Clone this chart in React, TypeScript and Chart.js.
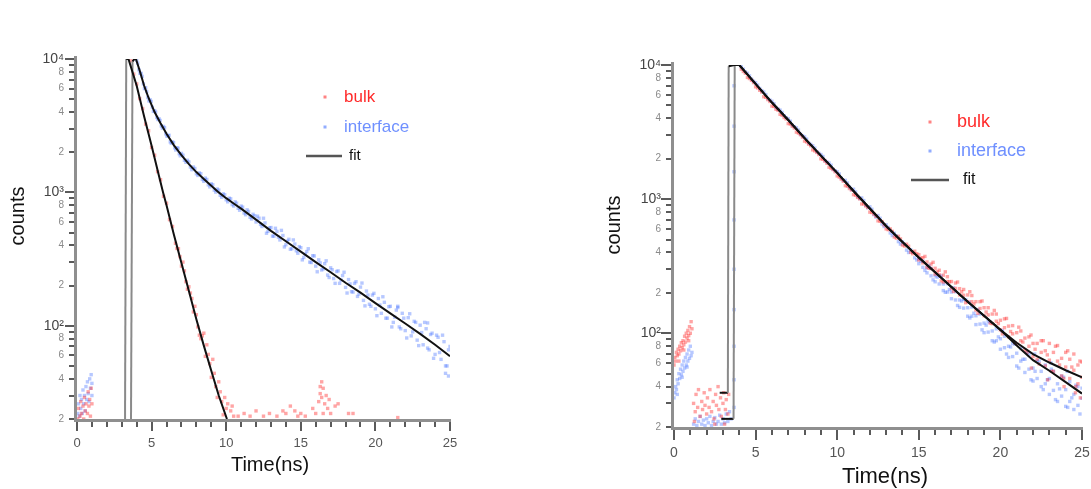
import { useEffect, useRef } from "react";
import { Chart, registerables } from "chart.js";

Chart.register(...registerables);

type Pt = [number, number];

// Axis ticks shared by both panels
const TIME_TICKS = [0, 1, 2, 3, 4, 5, 6, 7, 8, 9, 10, 11, 12, 13, 14, 15, 16, 17, 18, 19, 20, 21, 22, 23, 24, 25];
const COUNT_TICKS = [
  20, 30, 40, 50, 60, 70, 80, 90, 100, 200, 300, 400, 500, 600, 700, 800, 900,
  1000, 2000, 3000, 4000, 5000, 6000, 7000, 8000, 9000, 10000,
];
const DECADE_LABELS: Record<number, string> = { 100: "10\u00B2", 1000: "10\u00B3", 10000: "10\u2074" };
const SERIES_NAMES = ["bulk", "interface", "fit"];
const X_TITLE = "Time(ns)";
const Y_TITLE = "counts";

// ---------- left panel ----------
const bulkLeft: Pt[] = [
  [0.05, 20], [0.1, 24], [0.2, 21], [0.25, 27], [0.3, 22], [0.4, 25], [0.45, 20], [0.5, 29], [0.55, 23],
  [0.6, 26], [0.7, 22], [0.75, 32], [0.8, 25], [0.85, 28], [0.9, 21], [0.95, 34], [1.0, 26],
  [3.6, 9700], [3.8, 7700], [4.0, 6500], [4.2, 5050], [4.4, 4250], [4.6, 3250], [4.8, 2900], [5.0, 2170],
  [5.2, 1900], [5.4, 1430], [5.6, 1245], [5.8, 935], [6.0, 830], [6.2, 625], [6.4, 555], [6.6, 415],
  [6.7, 380], [6.8, 378], [6.9, 330], [7.0, 280], [7.1, 300], [7.2, 258], [7.3, 214], [7.4, 188], [7.5, 196],
  [7.6, 176], [7.7, 160], [7.8, 127], [7.9, 140], [8.0, 121], [8.1, 98], [8.2, 85], [8.3, 80], [8.4, 84],
  [8.5, 88], [8.6, 59], [8.7, 72], [8.8, 61], [8.9, 52], [9.0, 41], [9.1, 56], [9.2, 44], [9.3, 35], [9.4, 29],
  [9.5, 38], [9.6, 32], [9.7, 27], [9.8, 21.5], [9.9, 29], [10.0, 24], [10.1, 26], [10.3, 23], [10.4, 25],
  [10.5, 21], [10.8, 21], [11.2, 22], [11.6, 21], [12.0, 23], [12.5, 21], [12.9, 22], [13.4, 21], [13.8, 23],
  [14.0, 22], [14.3, 25], [14.6, 23], [14.8, 21], [15.0, 22], [15.3, 21], [15.8, 24], [16.0, 22],
  [16.2, 27], [16.3, 31], [16.3, 35], [16.4, 29], [16.4, 38], [16.5, 34], [16.5, 22], [16.6, 26],
  [16.7, 30], [16.8, 24], [16.9, 28], [17.0, 22], [17.3, 25], [17.5, 26], [18.2, 22], [18.5, 22], [21.5, 20.5],
];

const interfaceLeft: Pt[] = [
  [0.05, 22], [0.1, 26], [0.15, 21], [0.2, 30], [0.25, 24], [0.3, 28], [0.35, 22], [0.4, 33], [0.45, 26],
  [0.5, 30], [0.55, 23], [0.6, 35], [0.65, 28], [0.7, 38], [0.75, 31], [0.8, 27], [0.85, 40], [0.9, 34],
  [0.95, 43], [1.0, 30], [1.0, 37],
  [4.0, 9800], [4.15, 8300], [4.3, 7800], [4.45, 6500], [4.6, 6100], [4.75, 5150], [4.9, 4950], [5.05, 4350],
  [5.2, 4100], [5.35, 3650], [5.5, 3560], [5.65, 3150], [5.8, 3120], [5.95, 2750], [6.1, 2660], [6.25, 2390],
  [6.4, 2390], [6.55, 2160], [6.7, 2160], [6.85, 1950], [7.0, 1960], [7.2, 1740], [7.4, 1740], [7.6, 1550],
  [7.8, 1550], [8.0, 1380], [8.2, 1400], [8.4, 1250], [8.6, 1280], [8.8, 1140], [9.0, 1160], [9.2, 1040],
  [9.4, 1060], [9.6, 950], [9.8, 975], [10.0, 880], [10.2, 905], [10.4, 810], [10.6, 850], [10.8, 760],
  [11.0, 790], [11.2, 700], [11.4, 740], [11.6, 650], [11.8, 685], [12.0, 600], [12.2, 640], [12.4, 555],
  [12.6, 590], [12.8, 510], [13.0, 545], [13.2, 470], [13.4, 510], [13.6, 440], [13.8, 475], [14.0, 405],
  [14.2, 445], [14.4, 378], [14.6, 410], [14.8, 350], [15.0, 385], [15.2, 325], [15.4, 360], [15.6, 300],
  [15.8, 335], [16.0, 280], [16.2, 312], [16.4, 262], [16.6, 292], [16.8, 240], [17.0, 272], [17.2, 226],
  [17.4, 255], [17.6, 208], [17.8, 238], [18.0, 194], [18.2, 222], [18.4, 180], [18.6, 208], [18.8, 166],
  [19.0, 195], [19.2, 155], [19.4, 182], [19.6, 145], [19.8, 170], [20.0, 134], [20.2, 160], [20.4, 124],
  [20.6, 150], [20.8, 114], [21.0, 140], [21.2, 106], [21.4, 131], [21.5, 140], [21.6, 98], [21.8, 124],
  [22.0, 92], [22.2, 115], [22.4, 84], [22.6, 108], [22.8, 78], [23.0, 101], [23.2, 72], [23.4, 95],
  [23.5, 105], [23.6, 66], [23.8, 88], [24.0, 61], [24.2, 82], [24.4, 56], [24.6, 76], [24.7, 44],
  [24.8, 50], [24.9, 42], [25.0, 70],
];

// interleaved interface channels between the ones above
const interfaceLeftMid: Pt[] = [
  [4.07, 9300], [4.22, 7800], [4.37, 7400], [4.52, 6000], [4.67, 5700], [4.82, 4850], [4.97, 4800],
  [5.12, 4050], [5.27, 4000], [5.42, 3520], [5.57, 3460], [5.72, 3030], [5.87, 3050], [6.02, 2640],
  [6.17, 2680], [6.32, 2330], [6.47, 2360], [6.62, 2080], [6.77, 2140], [6.92, 1880], [7.1, 1900],
  [7.3, 1680], [7.5, 1690], [7.7, 1480], [7.9, 1510], [8.1, 1340], [8.3, 1380], [8.5, 1210], [8.7, 1250],
  [8.9, 1100], [9.1, 1140], [9.3, 1005], [9.5, 1040], [9.7, 920], [9.9, 960], [10.1, 850], [10.3, 895],
  [10.5, 790], [10.7, 830], [10.9, 735], [11.1, 775], [11.3, 680], [11.5, 720], [11.7, 632], [11.9, 668],
  [12.1, 663], [12.3, 575], [12.5, 640], [12.7, 494], [12.9, 542], [13.1, 470], [13.3, 538], [13.5, 462],
  [13.7, 519], [13.9, 390], [14.1, 431], [14.3, 375], [14.5, 440], [14.7, 365], [14.9, 392], [15.1, 312],
  [15.3, 344], [15.5, 378], [15.7, 298], [15.9, 334], [16.1, 254], [16.3, 296], [16.5, 267], [16.7, 307],
  [16.9, 230], [17.1, 263], [17.3, 208], [17.5, 258], [17.7, 220], [17.9, 252], [18.1, 176], [18.3, 206],
  [18.5, 179], [18.7, 214], [18.9, 173], [19.1, 209], [19.3, 141], [19.5, 170], [19.7, 140], [19.9, 175],
  [20.1, 119], [20.3, 143], [20.5, 165], [20.7, 114], [20.9, 139], [21.1, 98], [21.3, 116], [21.5, 137],
  [21.7, 95], [21.9, 114], [22.1, 81], [22.3, 123], [22.5, 90], [22.7, 106], [22.9, 71], [23.1, 89],
  [23.3, 106], [23.5, 68], [23.7, 86], [23.9, 57], [24.1, 85], [24.3, 63], [24.5, 85], [24.7, 50], [24.9, 66],
];

const bulkFitLeft: Pt[] = [
  [3.22, 20], [3.3, 10000], [3.45, 10000], [4.0, 6300], [4.5, 3700], [5.0, 2240], [5.5, 1320], [5.77, 1000],
  [6.0, 800], [6.5, 480], [7.0, 295], [7.5, 182], [8.0, 112], [8.5, 71], [9.0, 46], [9.5, 30], [10.05, 20],
];

const interfaceFitLeft: Pt[] = [
  [3.62, 20], [3.72, 9600], [3.85, 10000], [3.95, 10000], [4.2, 8200], [4.5, 6300], [4.8, 5100], [5.2, 4000],
  [5.6, 3300], [6.0, 2750], [6.5, 2250], [7.0, 1900], [7.5, 1630], [8.0, 1420], [8.5, 1260], [9.0, 1120],
  [9.5, 1000], [10.0, 905], [10.5, 825], [11.0, 755], [12.0, 625], [13.0, 515], [14.0, 430], [15.0, 360],
  [16.0, 300], [17.0, 252], [18.0, 210], [19.0, 177], [20.0, 148], [21.0, 124], [22.0, 104], [23.0, 87],
  [24.0, 72], [25.0, 59],
];

// ---------- right panel ----------
const bulkRight: Pt[] = [
  [0.0, 58], [0.05, 66], [0.1, 62], [0.15, 72], [0.2, 68], [0.25, 76], [0.3, 70], [0.3, 62], [0.35, 80],
  [0.4, 74], [0.45, 85], [0.5, 78], [0.55, 88], [0.6, 82], [0.6, 75], [0.65, 95], [0.7, 86], [0.75, 100],
  [0.8, 92], [0.85, 105], [0.9, 96], [0.9, 88], [0.95, 112], [1.0, 100], [1.05, 122], [1.1, 108],
  [1.2, 30], [1.25, 22], [1.3, 26], [1.35, 35], [1.45, 28], [1.5, 38], [1.6, 24], [1.7, 31], [1.75, 27],
  [1.85, 36], [1.9, 29], [2.0, 25], [2.05, 33], [2.15, 28], [2.2, 38], [2.3, 26], [2.4, 31], [2.45, 23],
  [2.5, 21], [2.55, 35], [2.6, 29], [2.7, 40], [2.75, 27], [2.85, 33], [2.9, 24], [3.0, 30], [3.05, 36],
  [3.1, 21], [3.15, 27], [3.2, 32], [3.3, 25], [3.35, 35],
  [4.25, 8950], [4.5, 8080], [4.75, 7690], [5.0, 6880], [5.25, 6480], [5.5, 5800], [5.75, 5520], [6.0, 4940],
  [6.25, 4680], [6.5, 4290], [6.75, 4060], [7.0, 3660], [7.25, 3490], [7.5, 3160], [7.75, 3020], [8.0, 2710],
  [8.25, 2570], [8.5, 2330], [8.75, 2230], [9.0, 2000], [9.25, 1920], [9.5, 1730], [9.75, 1660], [10.0, 1490],
  [10.25, 1410], [10.5, 1260], [10.75, 1200], [11.0, 1080], [11.25, 1030], [11.5, 920], [11.75, 890],
  [12.0, 800], [12.25, 774], [12.5, 689], [12.75, 680], [13.0, 600], [13.25, 600], [13.5, 522], [13.75, 528],
  [14.0, 455], [14.25, 461], [14.5, 402], [14.75, 409], [15.0, 352], [15.0, 385], [15.25, 335], [15.25, 366],
  [15.5, 311], [15.5, 340], [15.75, 304], [15.75, 328], [16.0, 276], [16.0, 305], [16.25, 273], [16.25, 295],
  [16.5, 241], [16.5, 271], [16.75, 243], [16.75, 264], [17.0, 217], [17.0, 243], [17.25, 216], [17.25, 237],
  [17.5, 193], [17.5, 215], [17.75, 192], [17.75, 212], [18.0, 172], [18.0, 193], [18.25, 172], [18.25, 191],
  [18.5, 149], [18.5, 172], [18.75, 153], [18.75, 172], [19.0, 135], [19.0, 155], [19.25, 137], [19.25, 155],
  [19.5, 118], [19.5, 139], [19.75, 123], [19.75, 139], [20.0, 106], [20.0, 125], [20.25, 110], [20.25, 128],
  [20.5, 94], [20.5, 113], [20.75, 99], [20.75, 114], [21.0, 83], [21.0, 101], [21.25, 88], [21.25, 104],
  [21.5, 75], [21.5, 92], [21.75, 80], [21.75, 94], [21.9, 55], [22.0, 67], [22.0, 84], [22.25, 64], [22.25, 84],
  [22.5, 72], [22.5, 88], [22.75, 57], [22.75, 74], [22.9, 45], [23.0, 63], [23.0, 84], [23.25, 52], [23.25, 72],
  [23.5, 62], [23.5, 81], [23.75, 48], [23.75, 65], [23.9, 40], [24.0, 56], [24.0, 72], [24.25, 46], [24.25, 64],
  [24.5, 53], [24.5, 70], [24.6, 36], [24.75, 42], [24.75, 58], [24.9, 33], [25.0, 47], [25.0, 61],
];

// interleaved bulk channels
const bulkRightMid: Pt[] = [
  [4.125, 9310], [4.375, 8680], [4.625, 7930], [4.875, 7390], [5.125, 6750], [5.375, 6290], [5.625, 5740],
  [5.875, 5350], [6.125, 4910], [6.375, 4600], [6.625, 4220], [6.875, 3960], [7.125, 3630], [7.375, 3390],
  [7.625, 3110], [7.875, 2900], [8.125, 2670], [8.375, 2500], [8.625, 2290], [8.875, 2150], [9.125, 1980],
  [9.375, 1850], [9.625, 1700], [9.875, 1600], [10.125, 1460], [10.375, 1360], [10.625, 1250], [10.875, 1170],
  [11.125, 1070], [11.375, 1005], [11.625, 923], [11.875, 865], [12.125, 795], [12.375, 745], [12.625, 685],
  [12.875, 642], [13.125, 592], [13.375, 575], [13.625, 512], [13.875, 505], [14.125, 447], [14.375, 445],
  [14.625, 392], [14.875, 392], [15.125, 363], [15.375, 374], [15.625, 305], [15.875, 338], [16.125, 287],
  [16.375, 246], [16.625, 287], [16.875, 242], [17.125, 205], [17.375, 241], [17.625, 204], [17.875, 169],
  [18.125, 204], [18.375, 165], [18.625, 141], [18.875, 174], [19.125, 144], [19.375, 119], [19.625, 148],
  [19.875, 118], [20.125, 99], [20.375, 129], [20.625, 103], [20.875, 85], [21.125, 111], [21.375, 86],
  [21.625, 72], [21.875, 97], [22.125, 76], [22.375, 59], [22.625, 88], [22.875, 69], [23.125, 52],
  [23.375, 80], [23.625, 58], [23.875, 46], [24.125, 74], [24.375, 56], [24.625, 40], [24.875, 62],
];

const interfaceRight: Pt[] = [
  [0.0, 33], [0.05, 36], [0.1, 40], [0.15, 38], [0.2, 45], [0.2, 35], [0.25, 42], [0.3, 50], [0.35, 46],
  [0.4, 54], [0.45, 49], [0.5, 58], [0.5, 47], [0.55, 52], [0.6, 62], [0.65, 55], [0.7, 66], [0.75, 58],
  [0.8, 70], [0.8, 56], [0.85, 62], [0.9, 75], [0.95, 65], [1.0, 80], [1.05, 68], [1.1, 72],
  [1.2, 21], [1.3, 23], [1.4, 20.5], [1.5, 22], [1.6, 24], [1.7, 21], [1.8, 22.5], [1.9, 20.5], [2.0, 23],
  [2.1, 21.5], [2.2, 24], [2.3, 20.5], [2.4, 22], [2.5, 23.5], [2.6, 21], [2.7, 22], [2.8, 24.5], [2.9, 21],
  [3.0, 23], [3.1, 21.5], [3.2, 25], [3.3, 22], [3.4, 26], [3.5, 23],
  [3.68, 28], [3.68, 45], [3.68, 80], [3.68, 150], [3.68, 300], [3.68, 700], [3.68, 1600], [3.68, 3500], [3.68, 7000],
  [4.25, 9320], [4.5, 8680], [4.75, 7850], [5.0, 7380], [5.25, 6680], [5.5, 6290], [5.75, 5630], [6.0, 5360],
  [6.25, 4820], [6.5, 4610], [6.75, 4190], [7.0, 3970], [7.25, 3560], [7.5, 3400], [7.75, 3050], [8.0, 2910],
  [8.25, 2620], [8.5, 2500], [8.75, 2260], [9.0, 2150], [9.25, 1940], [9.5, 1860], [9.75, 1670], [10.0, 1600],
  [10.25, 1435], [10.5, 1380], [10.75, 1230], [11.0, 1185], [11.25, 1045], [11.5, 1020], [11.75, 899],
  [12.0, 877], [12.25, 766], [12.5, 755], [12.75, 653], [13.0, 644], [13.25, 560], [13.5, 556], [13.75, 482],
  [14.0, 479], [14.25, 417], [14.5, 419], [14.75, 365], [15.0, 360], [15.0, 330], [15.25, 345], [15.25, 310],
  [15.5, 308], [15.5, 282], [15.75, 304], [15.75, 268], [16.0, 268], [16.0, 242], [16.25, 268], [16.25, 233],
  [16.5, 233], [16.5, 208], [16.75, 234], [16.75, 203], [17.0, 203], [17.0, 181], [17.25, 204], [17.25, 177],
  [17.5, 177], [17.5, 156], [17.75, 179], [17.75, 154], [18.0, 155], [18.0, 134], [18.1, 170], [18.25, 157],
  [18.25, 134], [18.5, 135], [18.5, 116], [18.75, 139], [18.75, 117], [19.0, 119], [19.0, 101], [19.25, 122],
  [19.25, 102], [19.5, 104], [19.5, 88], [19.75, 108], [19.75, 88], [20.0, 91], [20.0, 76], [20.1, 105],
  [20.25, 95], [20.25, 78], [20.5, 80], [20.5, 66], [20.75, 84], [20.75, 67], [21.0, 71], [21.0, 57],
  [21.25, 77], [21.25, 62], [21.5, 64], [21.5, 51], [21.75, 69], [21.75, 54], [22.0, 55], [22.0, 44],
  [22.1, 70], [22.25, 62], [22.25, 46], [22.5, 52], [22.5, 40], [22.75, 58], [22.75, 42], [23.0, 46],
  [23.0, 35], [23.1, 60], [23.25, 52], [23.25, 37.5], [23.5, 42], [23.5, 31], [23.75, 48], [23.75, 34],
  [24.0, 38], [24.0, 28.5], [24.1, 52], [24.25, 43.5], [24.25, 31], [24.5, 35], [24.5, 27], [24.75, 40],
  [24.75, 29], [25.0, 32.7], [25.0, 39],
];

// interleaved interface channels
const interfaceRightMid: Pt[] = [
  [4.125, 9700], [4.375, 8900], [4.625, 8300], [4.875, 7560], [5.125, 7080], [5.375, 6440], [5.625, 6020],
  [5.875, 5480], [6.125, 5150], [6.375, 4700], [6.625, 4430], [6.875, 4050], [7.125, 3810], [7.375, 3470],
  [7.625, 3270], [7.875, 2970], [8.125, 2800], [8.375, 2560], [8.625, 2400], [8.875, 2200], [9.125, 2080],
  [9.375, 1890], [9.625, 1790], [9.875, 1630], [10.125, 1540], [10.375, 1380], [10.625, 1320], [10.875, 1180],
  [11.125, 1130], [11.375, 1010], [11.625, 975], [11.875, 865], [12.125, 840], [12.375, 735], [12.625, 720],
  [12.875, 625], [13.125, 615], [13.375, 535], [13.625, 530], [13.875, 462], [14.125, 460], [14.375, 400],
  [14.625, 402], [14.875, 352], [15.125, 345], [15.375, 294], [15.625, 320], [15.875, 250], [16.125, 262],
  [16.375, 267], [16.625, 202], [16.875, 212], [17.125, 218], [17.375, 161], [17.625, 174], [17.875, 178],
  [18.125, 130], [18.375, 141], [18.625, 150], [18.875, 106], [19.125, 115], [19.375, 121], [19.625, 86],
  [19.875, 94], [20.125, 103], [20.375, 70], [20.625, 79], [20.875, 83], [21.125, 55], [21.375, 64],
  [21.625, 72], [21.875, 45], [22.125, 52], [22.375, 62], [22.625, 38], [22.875, 45], [23.125, 54],
  [23.375, 32], [23.625, 38.5], [23.875, 47], [24.125, 28], [24.375, 33], [24.625, 41], [24.875, 25],
];

const bulkFitRight: Pt[] = [
  [2.8, 36], [3.3, 36], [3.35, 9800], [3.7, 10000], [4.0, 10000], [5.0, 7240], [6.0, 5250], [7.0, 3890],
  [8.0, 2850], [9.0, 2110], [10.0, 1570], [11.0, 1150], [12.0, 851], [13.0, 631], [14.0, 479], [15.0, 367],
  [16.0, 285], [17.0, 221], [18.0, 172], [19.0, 135], [20.0, 106], [21.0, 85], [22.0, 70], [23.0, 60.5],
  [24.0, 53], [25.0, 47],
];

const interfaceFitRight: Pt[] = [
  [2.9, 23], [3.65, 23], [3.72, 10000], [4.0, 10000], [5.0, 7240], [6.0, 5250], [7.0, 3890], [8.0, 2850],
  [9.0, 2110], [10.0, 1570], [11.0, 1150], [12.0, 851], [13.0, 631], [14.0, 479], [15.0, 367], [16.0, 285],
  [17.0, 221], [18.0, 172], [19.0, 135], [20.0, 106], [21.0, 81], [22.0, 63], [23.0, 52.5], [24.0, 43.2],
  [25.0, 35.5],
];

const FONT = '"Liberation Sans", Arial, Helvetica, sans-serif';
const BULK_POINT = "rgba(255, 40, 40, 0.42)";
const IFACE_POINT = "rgba(65, 110, 255, 0.38)";

type Panel = {
  left: number;
  width: number;
  height: number;
  area: { left: number; top: number; right: number; bottom: number };
  xFont: number;
  xPad: number;
  yMajorFont: number;
  yMinorFont: number;
  yPad: number;
  majorTick: number;
  minorTick: number;
  legend: { markerX: number; textX: number; rows: number[]; lineX0: number; lineX1: number; fitY: number; fitTextX: number; font: number };
  xTitle: { x: number; y: number; font: number };
  yTitle: { x: number; y: number; font: number };
  bulk: Pt[];
  iface: Pt[];
  bulkFit: Pt[];
  ifaceFit: Pt[];
};

const PANELS: Panel[] = [
  {
    left: 0,
    width: 560,
    height: 489,
    area: { left: 77, top: 59, right: 450, bottom: 419 },
    xFont: 13,
    xPad: 17,
    yMajorFont: 14,
    yMinorFont: 10,
    yPad: 13,
    majorTick: 9,
    minorTick: 5,
    legend: { markerX: 325, textX: 344, rows: [97, 127], lineX0: 306, lineX1: 342, fitY: 156, fitTextX: 349, font: 17 },
    xTitle: { x: 270, y: 465, font: 20 },
    yTitle: { x: 18, y: 216, font: 20 },
    bulk: bulkLeft,
    iface: [...interfaceLeft, ...interfaceLeftMid],
    bulkFit: bulkFitLeft,
    ifaceFit: interfaceFitLeft,
  },
  {
    left: 560,
    width: 560,
    height: 489,
    area: { left: 114, top: 65, right: 522, bottom: 427 },
    xFont: 14,
    xPad: 18,
    yMajorFont: 14,
    yMinorFont: 10,
    yPad: 13,
    majorTick: 10,
    minorTick: 5,
    legend: { markerX: 370, textX: 397, rows: [122, 151], lineX0: 351, lineX1: 389, fitY: 180, fitTextX: 403, font: 18 },
    xTitle: { x: 325, y: 477, font: 22 },
    yTitle: { x: 54, y: 225, font: 20 },
    bulk: [...bulkRight, ...bulkRightMid],
    iface: [...interfaceRight, ...interfaceRightMid],
    bulkFit: bulkFitRight,
    ifaceFit: interfaceFitRight,
  },
];

const isDecade = (v: number) => v in DECADE_LABELS;
const toXY = (pts: Pt[]) => pts.map(([x, y]) => ({ x, y }));

// the steep rising edge of each fit renders as a thin grey stroke
const riseColor = (ctx: any) => {
  const dx = Math.abs(ctx.p1.parsed.x - ctx.p0.parsed.x);
  const dy = Math.abs(ctx.p1.parsed.y - ctx.p0.parsed.y);
  return dx < 0.15 && dy > 1000 ? "#8a8a8a" : "#111111";
};

function panelDecor(panel: Panel) {
  return {
    id: "panelDecor",
    beforeDatasetsDraw(chart: any) {
      const { ctx, chartArea: a, scales } = chart;
      ctx.save();
      // axis lines
      ctx.strokeStyle = "#8f8f8f";
      ctx.lineWidth = 3;
      ctx.beginPath();
      ctx.moveTo(a.left - 1.5, a.top - 3);
      ctx.lineTo(a.left - 1.5, a.bottom + 1.5);
      ctx.lineTo(a.right + 1, a.bottom + 1.5);
      ctx.stroke();
      // tick marks, pointing outward
      ctx.strokeStyle = "#5a5a5a";
      ctx.lineWidth = 2;
      ctx.beginPath();
      for (const v of COUNT_TICKS) {
        const py = Math.round(scales.y.getPixelForValue(v));
        const len = isDecade(v) ? panel.majorTick : panel.minorTick;
        ctx.moveTo(a.left - 3, py);
        ctx.lineTo(a.left - 3 - len, py);
      }
      for (const v of TIME_TICKS) {
        const px = Math.round(scales.x.getPixelForValue(v));
        const len = v % 5 === 0 ? panel.majorTick : panel.minorTick;
        ctx.moveTo(px, a.bottom + 3);
        ctx.lineTo(px, a.bottom + 3 + len);
      }
      ctx.stroke();
      ctx.restore();
    },
    afterDraw(chart: any) {
      const { ctx } = chart;
      const lg = panel.legend;
      ctx.save();
      ctx.textBaseline = "middle";
      ctx.textAlign = "left";
      ctx.font = `${lg.font}px ${FONT}`;
      // legend: bulk
      ctx.fillStyle = "rgba(255, 90, 90, 0.75)";
      ctx.fillRect(lg.markerX - 1.5, lg.rows[0] - 1.5, 3, 3);
      ctx.fillStyle = "#ff2b2b";
      ctx.fillText(SERIES_NAMES[0], lg.textX, lg.rows[0]);
      // legend: interface
      ctx.fillStyle = "rgba(110, 145, 255, 0.75)";
      ctx.fillRect(lg.markerX - 1.5, lg.rows[1] - 1.5, 3, 3);
      ctx.fillStyle = "#6f90ff";
      ctx.fillText(SERIES_NAMES[1], lg.textX, lg.rows[1]);
      // legend: fit
      ctx.strokeStyle = "#555555";
      ctx.lineWidth = 2.5;
      ctx.beginPath();
      ctx.moveTo(lg.lineX0, lg.fitY);
      ctx.lineTo(lg.lineX1, lg.fitY);
      ctx.stroke();
      ctx.fillStyle = "#111111";
      ctx.font = `${lg.font - 2}px ${FONT}`;
      ctx.fillText(SERIES_NAMES[2], lg.fitTextX, lg.fitY);
      // axis titles
      ctx.textAlign = "center";
      ctx.fillStyle = "#111111";
      ctx.font = `${panel.xTitle.font}px ${FONT}`;
      ctx.fillText(X_TITLE, panel.xTitle.x, panel.xTitle.y);
      ctx.translate(panel.yTitle.x, panel.yTitle.y);
      ctx.rotate(-Math.PI / 2);
      ctx.font = `${panel.yTitle.font}px ${FONT}`;
      ctx.fillText(Y_TITLE, 0, 0);
      ctx.restore();
    },
  };
}

function buildChart(canvas: HTMLCanvasElement, panel: Panel) {
  const { area } = panel;
  return new Chart(canvas, {
    type: "scatter",
    data: {
      datasets: [
        {
          label: SERIES_NAMES[2],
          data: toXY(panel.bulkFit),
          showLine: true,
          pointRadius: 0,
          borderColor: "#111111",
          borderWidth: 2,
          segment: { borderColor: riseColor },
          order: 0,
        },
        {
          label: SERIES_NAMES[2],
          data: toXY(panel.ifaceFit),
          showLine: true,
          pointRadius: 0,
          borderColor: "#111111",
          borderWidth: 2,
          segment: { borderColor: riseColor },
          order: 1,
        },
        {
          label: SERIES_NAMES[0],
          data: toXY(panel.bulk),
          pointStyle: "rect",
          pointRadius: 2.4,
          borderWidth: 0,
          backgroundColor: BULK_POINT,
          order: 2,
        },
        {
          label: SERIES_NAMES[1],
          data: toXY(panel.iface),
          pointStyle: "rect",
          pointRadius: 2.4,
          borderWidth: 0,
          backgroundColor: IFACE_POINT,
          order: 3,
        },
      ],
    } as any,
    options: {
      responsive: false,
      animation: false,
      events: [],
      layout: { padding: { left: 0, top: area.top, right: panel.width - area.right, bottom: 0 } },
      plugins: { legend: { display: false }, tooltip: { enabled: false } },
      scales: {
        x: {
          type: "linear",
          min: 0,
          max: 25,
          grid: { display: false, drawTicks: false },
          border: { display: false },
          afterBuildTicks: (s: any) => {
            s.ticks = TIME_TICKS.map((v) => ({ value: v }));
          },
          afterFit: (s: any) => {
            s.height = panel.height - area.bottom;
          },
          ticks: {
            autoSkip: false,
            maxRotation: 0,
            padding: panel.xPad,
            color: "#555555",
            font: { family: FONT, size: panel.xFont },
            callback: (v: any) => (Number(v) % 5 === 0 ? String(v) : ""),
          },
        },
        y: {
          type: "logarithmic",
          min: 20,
          max: 10000,
          grid: { display: false, drawTicks: false },
          border: { display: false },
          afterBuildTicks: (s: any) => {
            s.ticks = COUNT_TICKS.map((v) => ({ value: v }));
          },
          afterFit: (s: any) => {
            s.width = area.left;
          },
          ticks: {
            autoSkip: false,
            padding: panel.yPad,
            color: (c: any) => (isDecade(c.tick?.value) ? "#444444" : "#8a8a8a"),
            font: (c: any) => ({
              family: FONT,
              size: isDecade(c.tick?.value) ? panel.yMajorFont : panel.yMinorFont,
            }),
            callback: (v: any) => {
              const n = Number(v);
              if (DECADE_LABELS[n]) return DECADE_LABELS[n];
              const lead = Math.round(n / Math.pow(10, Math.floor(Math.log10(n) + 1e-9)));
              return lead % 2 === 0 ? String(lead) : "";
            },
          },
        },
      },
    } as any,
    plugins: [panelDecor(panel)],
  });
}

function DecayPanel({ panel }: { panel: Panel }) {
  const ref = useRef<HTMLCanvasElement | null>(null);
  useEffect(() => {
    if (!ref.current) return;
    const chart = buildChart(ref.current, panel);
    return () => chart.destroy();
  }, [panel]);
  return (
    <canvas
      ref={ref}
      width={panel.width}
      height={panel.height}
      style={{ position: "absolute", left: panel.left, top: 0, width: panel.width, height: panel.height }}
    />
  );
}

export default function App() {
  return (
    <div style={{ position: "absolute", left: 0, top: 0, width: 1091, height: 489, background: "#ffffff", overflow: "hidden" }}>
      {PANELS.map((p, i) => (
        <DecayPanel key={i} panel={p} />
      ))}
    </div>
  );
}
